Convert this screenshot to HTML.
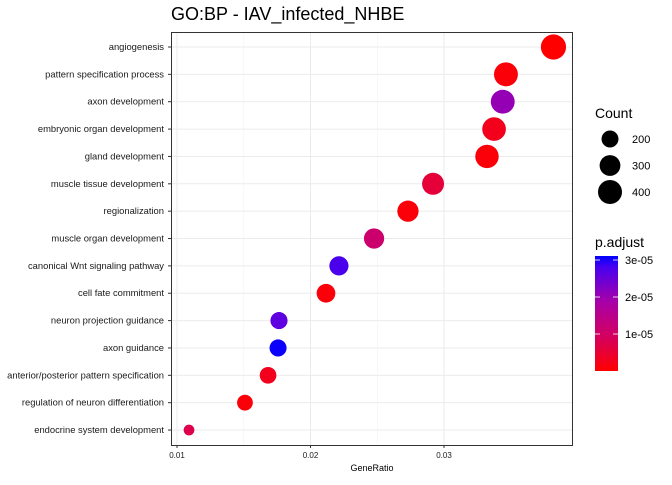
<!DOCTYPE html>
<html><head><meta charset="utf-8"><style>
body{margin:0;background:#fff}
svg text{font-family:"Liberation Sans",sans-serif}
</style></head><body>
<svg id="chart" width="672" height="480" viewBox="0 0 672 480">
<rect x="0" y="0" width="672" height="480" fill="#fff"/>
<text x="171" y="20" font-size="18" fill="#000">GO:BP - IAV_infected_NHBE</text>
<g id="grid"></g>
<g id="marks"></g>
<rect x="171.5" y="32.5" width="401" height="413" fill="none" stroke="#333" stroke-width="1"/>
<g id="axes"></g>
<text x="372" y="471" font-size="9" text-anchor="middle" fill="#000">GeneRatio</text>
<g>
<text x="595" y="118" font-size="14" fill="#000">Count</text>
<g id="sizeLegend"></g>
</g>
<g>
<text x="595" y="247" font-size="14" fill="#000">p.adjust</text>
<defs><linearGradient id="pg" x1="0" y1="1" x2="0" y2="0">
<stop offset="0" stop-color="#ff0000"/><stop offset="0.3" stop-color="#d4005f"/><stop offset="0.6" stop-color="#a800a8"/><stop offset="0.9" stop-color="#4a00ee"/><stop offset="1" stop-color="#0000ff"/>
</linearGradient></defs>
<rect x="595" y="256" width="23" height="115" fill="url(#pg)"/>
<g id="colorTicks"></g>
</g>
</svg>
<script>
const terms=["angiogenesis","pattern specification process","axon development","embryonic organ development","gland development","muscle tissue development","regionalization","muscle organ development","canonical Wnt signaling pathway","cell fate commitment","neuron projection guidance","axon guidance","anterior/posterior pattern specification","regulation of neuron differentiation","endocrine system development"];
const geneRatio=[0.0382,0.03464,0.0344,0.03375,0.03322,0.02918,0.0273,0.02476,0.02213,0.02116,0.01764,0.01757,0.01682,0.01509,0.0109];
const counts=[440,398,396,388,382,336,314,285,255,243,203,202,193,173,80];
const padj=[0.0,0.1e-5,2.2e-5,0.3e-5,0.1e-5,0.6e-5,0.1e-5,1.2e-5,3.0e-5,0.1e-5,2.8e-5,3.3e-5,0.3e-5,0.1e-5,0.8e-5];
const xTicks=[0.01,0.02,0.03];
const xTickLabels=["0.01","0.02","0.03"];
const sizeBreaks=[200,300,400];
const colorBreaks=[1e-5,2e-5,3e-5];
const colorLabels=["1e-05","2e-05","3e-05"];
const NS="http://www.w3.org/2000/svg";
const X=v=>177+(v-0.01)*13350;
const Y=i=>47+i*27.36;
const R=c=>Math.sqrt(0.36*c);
const CB=v=>371-v*3.7e6;
const stops=[[0,[255,0,0]],[0.3,[212,0,95]],[0.6,[168,0,168]],[0.9,[74,0,238]],[1,[0,0,255]]];
function col(v){let t=Math.min(1,Math.max(0,v/3.35e-5));for(let k=1;k<stops.length;k++){if(t<=stops[k][0]){const a=stops[k-1],b=stops[k];const f=(t-a[0])/(b[0]-a[0]);return 'rgb('+a[1].map((c,j)=>Math.round(c+(b[1][j]-c)*f)).join(',')+')';}}return 'rgb(0,0,255)';}
function mk(tag,attrs,parent){const e=document.createElementNS(NS,tag);for(const k in attrs)e.setAttribute(k,attrs[k]);parent.appendChild(e);return e;}
const grid=document.getElementById('grid'),marks=document.getElementById('marks'),axes=document.getElementById('axes');
for(let k=0;k<xTicks.length;k++){
  const x=X(xTicks[k]);
  const g=mk('line',{x1:x,x2:x,y1:33,y2:445,stroke:'#ebebeb','stroke-width':1},grid);
  
  if(k<xTicks.length-1){const xm=X((xTicks[k]+xTicks[k+1])/2);const m=mk('line',{x1:xm,x2:xm,y1:33,y2:445,stroke:'#f3f3f3','stroke-width':0.6},grid);
  }
  const t=mk('line',{x1:x,x2:x,y1:445,y2:448,stroke:'#333'},axes);
  
  const l=mk('text',{x:x,y:458,'font-size':8,'text-anchor':'middle',fill:'#1a1a1a'},axes);l.textContent=xTickLabels[k];
  
}
terms.forEach((term,i)=>{
  const y=Y(i);
  const g=mk('line',{x1:172,x2:572,y1:y,y2:y,stroke:'#ebebeb','stroke-width':1},grid);
  
  const t=mk('line',{x1:168,x2:171,y1:y,y2:y,stroke:'#333'},axes);
  
  const l=mk('text',{x:164,y:y+3,'font-size':9.4,'text-anchor':'end',fill:'#1a1a1a'},axes);l.textContent=term;
  
  const c=mk('circle',{cx:X(geneRatio[i]),cy:y,r:R(counts[i]),fill:col(padj[i])},marks);
  
  
});
const sl=document.getElementById('sizeLegend');
sizeBreaks.forEach((s,k)=>{
  const y=139+k*26.5;
  const c=mk('circle',{cx:610,cy:y,r:R(s),fill:'#000'},sl);
  
  const l=mk('text',{x:632,y:y+4,'font-size':11,fill:'#000'},sl);l.textContent=String(s);
  
});
const ct=document.getElementById('colorTicks');
colorBreaks.forEach((v,k)=>{
  const y=CB(v);
  const a=mk('line',{x1:595,x2:600,y1:y,y2:y,stroke:'#fff','stroke-width':0.8},ct);
  
  const b=mk('line',{x1:613,x2:618,y1:y,y2:y,stroke:'#fff','stroke-width':0.8},ct);
  
  const l=mk('text',{x:625,y:y+4,'font-size':11,fill:'#000'},ct);l.textContent=colorLabels[k];
  
});
</script>
</body></html>
